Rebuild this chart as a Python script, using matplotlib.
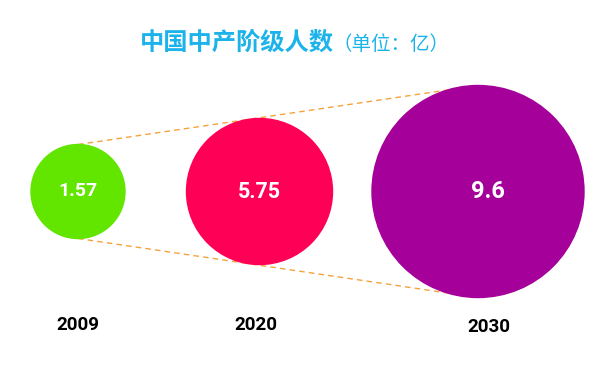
import matplotlib
matplotlib.use('Agg')
import matplotlib.pyplot as plt
from matplotlib.patches import Circle

plt.rcParams['font.family'] = ['Noto Sans CJK SC', 'DejaVu Sans']

# data
years = ['2009', '2020', '2030']
values = [1.57, 5.75, 9.6]
title_main = '中国中产阶级人数'
title_unit = '（单位：亿）'

# layout / style (pixel coordinates on a 611x381 canvas)
x_pos = [78, 259.5, 478]
radii = [47, 73, 106]
cy = 191.5
label_dx = [0, 0, 10]
value_sizes = [14, 15.5, 17]
colors = ['#62E600', '#FF0057', '#A5009A']
line_color = '#F6A23C'

fig = plt.figure(figsize=(6.11, 3.81), dpi=100)
ax = fig.add_axes([0, 0, 1, 1])
ax.set_xlim(0, 611)
ax.set_ylim(381, 0)
ax.set_aspect('equal')
ax.axis('off')

# dashed guide lines from smallest to largest circle
ax.plot([x_pos[0], x_pos[-1]], [cy - radii[0], cy - radii[-1]],
        ls=(0, (4, 3)), color=line_color, lw=1, zorder=1)
ax.plot([x_pos[0], x_pos[-1]], [cy + radii[0], cy + radii[-1]],
        ls=(0, (4, 3)), color=line_color, lw=1, zorder=1)

for x, r, v, c, dx, fs in zip(x_pos, radii, values, colors, label_dx, value_sizes):
    ax.add_patch(Circle((x, cy), r, color=c, zorder=2))
    ax.text(x + dx, cy, f'{v:g}', color='white', fontsize=fs, fontweight='bold',
            ha='center', va='center', family=['Roboto', 'DejaVu Sans'], zorder=3)

for x, yr, yy in zip([77.5, 256, 489], years, [325.5, 325.5, 327]):
    ax.text(x, yy, yr, color='black', fontsize=13.5, fontweight='bold',
            ha='center', va='center', family=['Roboto', 'DejaVu Sans'])

ax.text(334, 43, title_main, color='#1BB3EA', fontsize=17.5, fontweight='bold',
        ha='right', va='center')
ax.text(333, 45, title_unit, color='#1BB3EA', fontsize=14,
        ha='left', va='center')

fig.savefig('out.png', dpi=100)
